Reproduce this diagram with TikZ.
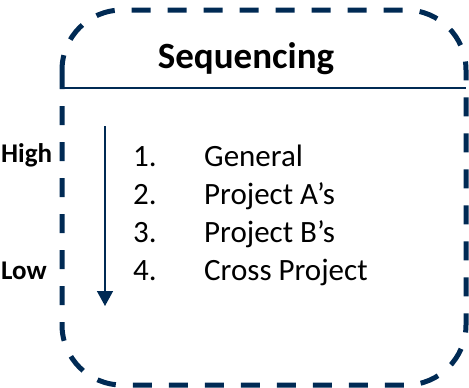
\documentclass[tikz,border=0pt]{standalone}
\usepackage{fontspec}
\setmainfont{Carlito}
\usetikzlibrary{arrows.meta}
\definecolor{navy}{RGB}{0,42,84}
\tikzset{
  frame/.style={draw=navy, line width=5pt, dash pattern=on 19pt off 17pt, rounded corners=60pt},
  divider/.style={draw=navy, line width=2pt},
  scalearrow/.style={draw=navy, line width=1.5pt, -{Triangle[length=15pt,width=16pt]}},
  title/.style={font=\bfseries\fontsize{37}{44}\selectfont, inner sep=0pt, anchor=base},
  side/.style={font=\bfseries\fontsize{27}{32}\selectfont, inner sep=0pt, anchor=base west},
  item/.style={font=\fontsize{31}{37}\selectfont, inner sep=0pt, anchor=base west}
}
\begin{document}
\begin{tikzpicture}[x=1pt,y=-1pt]
\useasboundingbox (0,0) rectangle (469,388);
\draw[frame] (62,10) rectangle (466,385);
\coordinate (dl) at (62,88);
\coordinate (dr) at (466,88);
\draw[divider] (dl) -- (dr);
\node[title] (t) at (246,68) {Sequencing};
\node[side] (hi) at (1,162) {High};
\node[side] (lo) at (1,279) {Low};
\coordinate (as) at (105,126);
\coordinate (ae) at (105,306);
\draw[scalearrow] (as) -- (ae);
\node[item] (n1) at (133,166) {1.};
\node[item] (n2) at (133,204) {2.};
\node[item] (n3) at (133,242) {3.};
\node[item] (n4) at (133,280) {4.};
\node[item] (i1) at (204,166) {General};
\node[item] (i2) at (204,204) {Project A’s};
\node[item] (i3) at (204,242) {Project B’s};
\node[item] (i4) at (204,280) {Cross Project};
\end{tikzpicture}
\end{document}
